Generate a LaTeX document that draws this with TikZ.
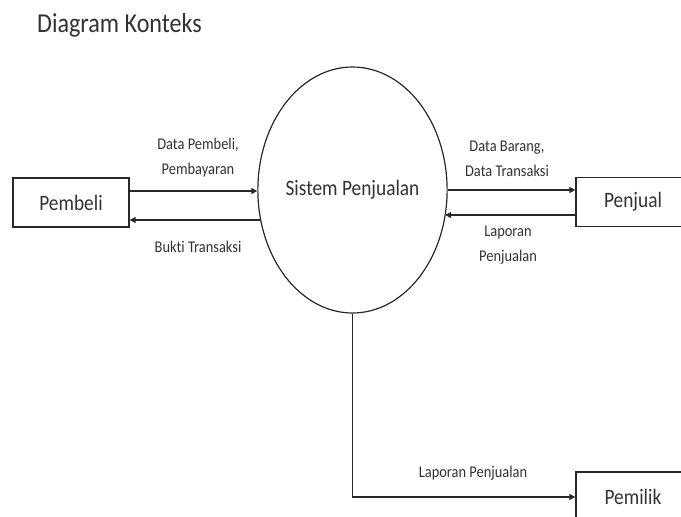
\documentclass[tikz,border=0pt]{standalone}
\usepackage{fontspec}
\setmainfont[FakeStretch=0.88,Ligatures=NoCommon]{Carlito}
\usetikzlibrary{shapes.geometric,arrows.meta}
\definecolor{linec}{RGB}{40,40,40}
\definecolor{textc}{RGB}{50,50,50}
\begin{document}
\begin{tikzpicture}[x=1pt,y=-1pt,
  box/.style={draw=linec,line width=1.3pt,minimum height=49pt,inner sep=0pt,text=textc,font=\fontsize{22}{26}\selectfont},
  proc/.style={ellipse,draw=linec,line width=1.2pt,minimum width=171pt,minimum height=246pt,inner sep=0pt,text=textc,font=\fontsize{22}{26}\selectfont},
  flow/.style={draw=linec,line width=1.4pt,-{Triangle[length=6pt,width=6pt]}},
  lbl/.style={text=textc,font=\fontsize{16.4}{25}\selectfont,align=center,inner sep=0pt}]
\path[use as bounding box] (0,0) rectangle (681,517);
\clip (0,0) rectangle (681,517);
\node[anchor=base west,text=textc,font=\fontsize{27.4}{30}\selectfont,inner sep=0pt] (title) at (37,32) {Diagram Konteks};
\node[box,minimum width=116pt] (pembeli) at (71,202.5) {Pembeli};
\node[proc] (sp) at (352.5,190) {Sistem Penjualan};
\node[box,minimum width=114pt] (penjual) at (633,202) {Penjual};
\node[box,minimum width=114pt,minimum height=50pt] (pemilik) at (633,497) {Pemilik};
\draw[flow] ([yshift=11.5pt]pembeli.east) -- ([yshift=11.5pt]pembeli.east -| sp.west);
\draw[flow] (sp.198) -- (sp.198 -| pembeli.east);
\draw[flow] (sp.east) -- (sp.east -| penjual.west);
\draw[flow] ([yshift=-13pt]penjual.west) -- ([yshift=-13pt]penjual.west -| sp.343);
\draw[flow] (sp.south) |- (pemilik.west);
\node[lbl] (l1) at (198,158) {Data Pembeli,\\Pembayaran};
\node[lbl] (l2) at (198,247) {Bukti Transaksi};
\node[lbl] (l3) at (507,158.5) {Data Barang,\\Data Transaksi};
\node[lbl] (l4) at (508,245) {Laporan\\Penjualan};
\node[lbl] (l5) at (473,473) {Laporan Penjualan};
\end{tikzpicture}
\end{document}
